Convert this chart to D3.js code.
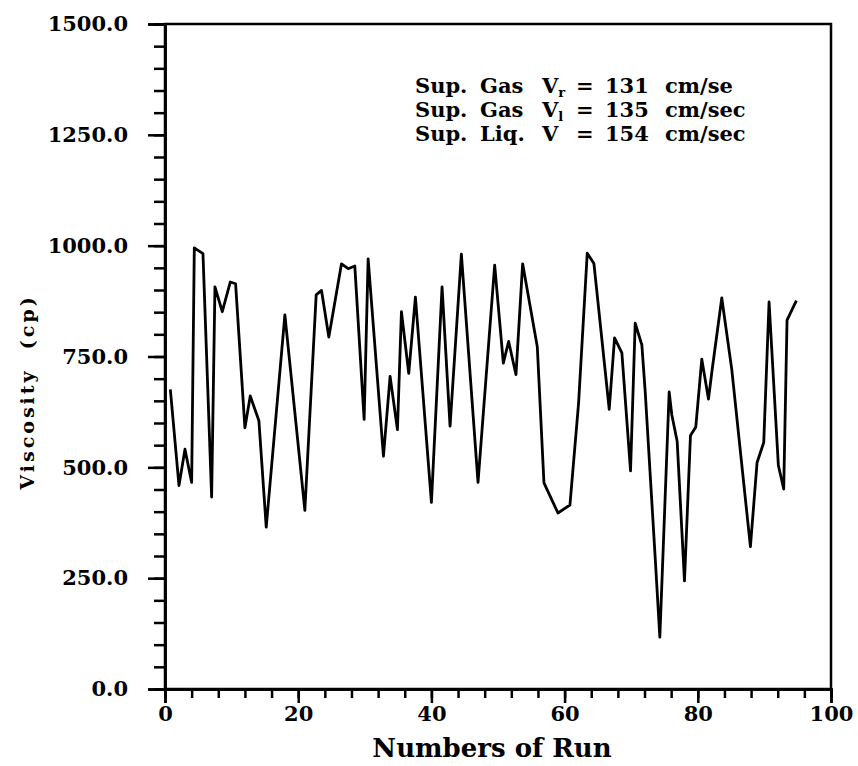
<!DOCTYPE html>
<html>
<head>
<meta charset="utf-8">
<script src="https://cdn.jsdelivr.net/npm/d3@7"></script>
<style>
  body { margin: 0; background: #fff; }
  svg text { font-family: 'DejaVu Serif', serif; font-weight: bold; fill: #000; }
  .axis path, .axis line { stroke: #000; stroke-width: 2.5; }
  .axis text { font-size: 21px; }
</style>
</head>
<body>
<svg class="chart"></svg>
<script>
// values
const runs = [0.8, 2.1, 3.0, 4.0, 4.4, 5.7, 7.0, 7.5, 8.6, 9.8, 10.6, 12.0, 12.8, 14.1, 15.2, 18.0, 21.0, 22.7, 23.5, 24.6,
    26.5, 27.5, 28.5, 29.9, 30.5, 32.8, 33.8, 34.9, 35.5, 36.6, 37.6, 40.0, 41.6, 42.8, 44.5, 47.0, 49.5, 50.8, 51.6, 52.7,
    53.7, 55.9, 56.9, 59.0, 60.8, 62.1, 63.4, 64.4, 66.7, 67.5, 68.6, 69.9, 70.6, 71.6, 72.1, 73.6, 74.3, 75.7, 76.1, 76.9,
    78.0, 78.9, 79.7, 80.6, 81.6, 82.1, 83.6, 85.1, 87.9, 88.9, 89.9, 90.7, 92.1, 92.9, 93.4, 94.8]
const viscosity = [676, 459, 541, 466, 995, 982, 433, 907, 851, 918, 914, 589, 661, 605, 365, 844, 403, 889, 899, 794,
    959, 948, 954, 608, 970, 525, 705, 585, 851, 712, 884, 421, 907, 593, 981, 466, 956, 735, 784, 709,
    959, 772, 465, 397, 415, 645, 983, 960, 631, 792, 758, 492, 825, 776, 671, 297, 117, 670, 618, 559,
    244, 572, 591, 744, 654, 714, 882, 721, 321, 511, 556, 873, 504, 451, 832, 876]

const xMajor = [0, 20, 40, 60, 80, 100]
const yMajor = [0, 250, 500, 750, 1000, 1250, 1500]

const notes = [
    { words: ['Sup.', 'Gas', 'V', '=', '131', 'cm/se'], sub: 'r' },
    { words: ['Sup.', 'Gas', 'V', '=', '135', 'cm/sec'], sub: 'l' },
    { words: ['Sup.', 'Liq.', 'V', '=', '154', 'cm/sec'], sub: '' }
]

const width = 858
const height = 766
const plot = { left: 165, right: 831, top: 24, bottom: 689 }

const svg = d3.select('.chart')
    .attr('width', width)
    .attr('height', height)

const x = d3.scaleLinear().domain([0, 100]).range([plot.left, plot.right])
const y = d3.scaleLinear().domain([0, 1500]).range([plot.bottom, plot.top])

// frame
svg.append('rect')
    .attr('x', plot.left)
    .attr('y', plot.top)
    .attr('width', plot.right - plot.left)
    .attr('height', plot.bottom - plot.top)
    .attr('fill', 'none')
    .attr('stroke', '#000')
    .attr('stroke-width', 2.5)

// minor ticks
svg.append('g')
    .attr('class', 'axis')
    .attr('transform', `translate(${plot.left},0)`)
    .call(d3.axisLeft(y).tickValues(d3.range(0, 1501, 50)).tickSize(11).tickFormat(''))
svg.append('g')
    .attr('class', 'axis')
    .attr('transform', `translate(0,${plot.bottom})`)
    .call(d3.axisBottom(x).tickValues(d3.range(0, 101, 4)).tickSize(9).tickFormat(''))

// major ticks + labels
svg.append('g')
    .attr('class', 'axis')
    .attr('transform', `translate(${plot.left},0)`)
    .call(d3.axisLeft(y).tickValues(yMajor).tickSize(17).tickPadding(20).tickFormat(d3.format('.1f')))
svg.append('g')
    .attr('class', 'axis')
    .attr('transform', `translate(0,${plot.bottom})`)
    .call(d3.axisBottom(x).tickValues(xMajor).tickSize(14).tickPadding(3).tickFormat(d3.format('d')))

const line = d3.line()
    .x(d => x(d[0]))
    .y(d => y(d[1]))

svg.append('path')
    .datum(runs.map((r, i) => [r, viscosity[i]]))
    .attr('d', line)
    .attr('fill', 'none')
    .attr('stroke', '#000')
    .attr('stroke-width', 2.8)
    .attr('stroke-linejoin', 'round')

// axis titles
svg.append('text')
    .attr('x', 492)
    .attr('y', 757)
    .attr('text-anchor', 'middle')
    .style('font-size', '26px')
    .text('Numbers of Run')

svg.append('text')
    .attr('transform', 'translate(34,392) rotate(-90)')
    .attr('text-anchor', 'middle')
    .style('font-size', '19px')
    .style('letter-spacing', '3px')
    .attr('xml:space', 'preserve')
    .text('Viscosity  (cp)')

// annotation block
const wordX = [415, 480, 542, 576, 605, 665]
notes.forEach((n, i) => {
    const base = 93 + i * 24
    const t = svg.append('text')
        .attr('y', base)
        .style('font-size', '21px')
    n.words.forEach((w, j) => {
        t.append('tspan').attr('x', wordX[j]).attr('y', base).text(w)
        if (w === 'V' && n.sub) {
            t.append('tspan').attr('dy', 4).style('font-size', '13px').text(n.sub)
        }
    })
})
</script>
</body>
</html>
